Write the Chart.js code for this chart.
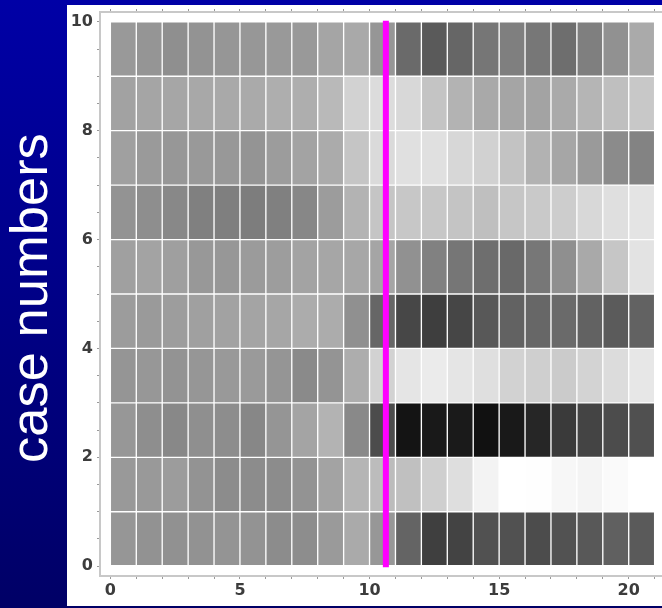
<!DOCTYPE html>
<html>
<head>
<meta charset="utf-8">
<script src="https://cdn.jsdelivr.net/npm/chart.js@4/dist/chart.umd.min.js"></script>
<style>
  html, body { margin: 0; padding: 0; }
  body {
    width: 662px; height: 608px; overflow: hidden; position: relative;
    background: linear-gradient(to bottom, #0000a6, #000066);
  }
  #title {
    position: absolute; left: 29px; top: 298px;
    transform: translate(-50%, -50%) rotate(-90deg);
    color: #fff; font: 52.5px 'Liberation Sans', Arial, sans-serif;
    white-space: nowrap; line-height: 1;
  }
  #panel {
    position: absolute; left: 67px; top: 5px; width: 595px; height: 601px;
    background: #fff; overflow: hidden;
  }
</style>
</head>
<body>
<div id="title">case numbers</div>
<div id="panel"><canvas id="chart" width="610" height="601"></canvas></div>
<script>
// grey level (0 = black, 255 = white) of each cell, one array per case row, columns 0..20
const case0 = [150, 146, 145, 146, 148, 147, 140, 141, 154, 170, 151, 100, 63, 67, 81, 81, 76, 82, 88, 96, 90];
const case1 = [153, 153, 156, 147, 140, 140, 140, 147, 163, 181, 188, 192, 207, 222, 243, 255, 254, 247, 244, 250, 255];
const case2 = [151, 142, 136, 143, 141, 135, 149, 164, 179, 137, 76, 20, 25, 26, 17, 25, 38, 58, 68, 76, 80];
const case3 = [149, 151, 147, 150, 153, 154, 149, 138, 148, 173, 210, 229, 235, 229, 223, 210, 207, 203, 211, 220, 231];
const case4 = [156, 154, 157, 160, 162, 164, 166, 172, 172, 144, 102, 71, 62, 70, 88, 98, 103, 106, 98, 91, 98];
const case5 = [160, 163, 159, 152, 151, 155, 157, 163, 166, 167, 165, 145, 129, 118, 110, 105, 119, 143, 169, 198, 227];
const case6 = [147, 142, 136, 128, 127, 125, 128, 135, 156, 179, 197, 199, 199, 196, 191, 198, 201, 205, 216, 223, 228];
const case7 = [160, 154, 151, 153, 152, 148, 156, 163, 171, 197, 218, 224, 224, 215, 209, 195, 178, 166, 154, 139, 131];
const case8 = [162, 165, 166, 168, 169, 170, 174, 174, 185, 210, 220, 216, 196, 179, 169, 165, 163, 170, 181, 191, 200];
const case9 = [153, 149, 143, 147, 150, 151, 153, 153, 165, 169, 150, 106, 90, 102, 118, 127, 119, 110, 127, 145, 170];

const xTickLabels = [0, 5, 10, 15, 20];
const yTickLabels = [0, 2, 4, 6, 8, 10];
const markerX = 10.63;          // magenta divider position
const markerRange = [-0.02, 10.02];

const rows = [case0, case1, case2, case3, case4, case5, case6, case7, case8, case9];
const nCols = case0.length;

const grey = v => `rgb(${v},${v},${v})`;

const cellSets = rows.map((vals, r) => ({
    type: 'bar',
    xAxisID: 'x',
    data: vals.map((v, c) => ({ x: c + 0.5, y: [r, r + 1] })),
    backgroundColor: vals.map(grey),
    borderColor: 'rgba(255,255,255,0.25)',
    borderWidth: 1,
    borderSkipped: false,
    grouped: false,
    barPercentage: 1,
    categoryPercentage: 1,
    order: 2
}));

const markerSet = {
    type: 'line',
    xAxisID: 'x',
    data: markerRange.map(y => ({ x: markerX, y })),
    borderColor: '#ff00ff',
    borderWidth: 6,
    borderCapStyle: 'butt',
    pointRadius: 0,
    order: 1
};

const tickFont = { family: "'DejaVu Sans', sans-serif", size: 16, weight: 'bold' };
const axisBorder = { color: '#c8c8c8', width: 2 };

const xTicks = Array.from({ length: nCols + 1 }, (_, i) => ({ value: i }));
const yTicks = Array.from({ length: rows.length * 2 + 1 }, (_, i) => ({ value: i / 2 }));

// keep tick label overflow from pushing the plot area around
const noPadX = s => { s.paddingLeft = 0; s.paddingRight = 0; };
const noPadY = s => { s.paddingTop = 0; s.paddingBottom = 0; };

new Chart(document.getElementById('chart'), {
    type: 'bar',
    data: { datasets: [...cellSets, markerSet] },
    options: {
        responsive: false,
        animation: false,
        events: [],
        layout: { padding: { left: 0, top: 0, right: 12, bottom: 0 } },
        plugins: { legend: { display: false }, tooltip: { enabled: false } },
        scales: {
            x: {
                type: 'linear', position: 'bottom',
                min: -0.4, max: 21.4, offset: false,
                afterBuildTicks: s => { s.ticks = xTicks.map(t => ({ ...t })); },
                afterFit: s => { s.height = 30; noPadX(s); },
                grid: { offset: false, drawOnChartArea: false, tickLength: 3, tickColor: '#999' },
                border: axisBorder,
                ticks: {
                    font: tickFont, color: '#3c3c3c', padding: 2, maxRotation: 0, autoSkip: false,
                    callback: v => xTickLabels.includes(v) ? String(v) : ''
                }
            },
            xTop: {
                type: 'linear', position: 'top',
                min: -0.4, max: 21.4, offset: false,
                afterBuildTicks: s => { s.ticks = xTicks.map(t => ({ ...t })); },
                afterFit: s => { s.height = 7; noPadX(s); },
                grid: { offset: false, drawOnChartArea: false, tickLength: 3, tickColor: '#999' },
                border: axisBorder,
                ticks: { display: false }
            },
            y: {
                type: 'linear', position: 'left',
                min: -0.18, max: 10.18,
                afterBuildTicks: s => { s.ticks = yTicks.map(t => ({ ...t })); },
                afterFit: s => { s.width = 33; noPadY(s); },
                grid: { drawOnChartArea: false, tickLength: 3, tickColor: '#999' },
                border: axisBorder,
                ticks: {
                    font: tickFont, color: '#3c3c3c', padding: 4, autoSkip: false,
                    callback: v => yTickLabels.includes(v) ? String(v) : ''
                }
            }
        }
    }
});
</script>
</body>
</html>
